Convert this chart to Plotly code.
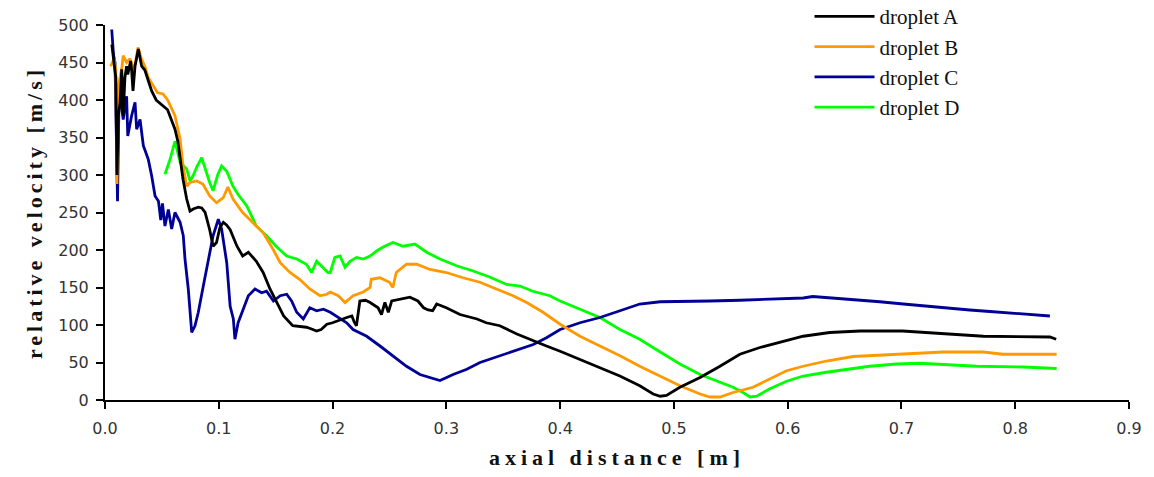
import plotly.graph_objects as go

# droplet A (black)
a_x = [0.006, 0.008, 0.0095, 0.0105, 0.0118, 0.0132, 0.0147, 0.016, 0.0175, 0.019, 0.020, 0.0225, 0.0234, 0.0246,
       0.0264, 0.0293, 0.0322, 0.035, 0.038, 0.041, 0.045, 0.050, 0.055, 0.058, 0.0615, 0.064, 0.066, 0.0686, 0.0718,
       0.0747, 0.078, 0.082, 0.085, 0.088, 0.092, 0.095, 0.098, 0.101, 0.104, 0.107, 0.110, 0.113, 0.116, 0.121, 0.126,
       0.133, 0.139, 0.145, 0.151, 0.157, 0.165, 0.171, 0.177, 0.181, 0.186, 0.190, 0.195, 0.200, 0.2065, 0.2125, 0.217,
       0.219, 0.221, 0.224, 0.229, 0.233, 0.240, 0.243, 0.246, 0.249, 0.252, 0.259, 0.268, 0.275, 0.280, 0.284, 0.288,
       0.2915, 0.300, 0.312, 0.327, 0.335, 0.347, 0.362, 0.376, 0.388, 0.400, 0.4175, 0.435, 0.4525, 0.470, 0.4818,
       0.488, 0.4935, 0.5053, 0.523, 0.5405, 0.558, 0.5756, 0.599, 0.6136, 0.637, 0.6636, 0.701, 0.7366, 0.772, 0.8305,
       0.836]
a_y = [474, 445, 430, 300, 380, 396, 441, 379, 430, 445, 434, 452, 440, 412,
       445, 468, 445, 440, 425, 412, 400, 394, 387, 375, 361, 345, 321, 294, 268,
       252, 255, 257, 256, 250, 227, 205, 210, 230, 237, 233, 227, 215, 205, 192, 197,
       185, 170, 148, 130, 112, 99, 98, 97, 95, 92, 94, 101, 103, 107, 110, 112,
       104, 99, 132, 133, 130, 123, 114, 130, 117, 132, 134, 137, 132, 123, 120, 119,
       128, 123, 114, 108, 103, 99, 88, 79, 72, 65, 54, 43, 32, 19, 8,
       5, 6, 17, 30, 45, 61, 70, 79, 85, 90, 92, 92, 88, 85, 84,
       81]

# droplet B (orange)
b_x = [0.005, 0.008, 0.0095, 0.0105, 0.012, 0.015, 0.016, 0.019, 0.022, 0.025, 0.027, 0.029, 0.032, 0.035, 0.038,
       0.042, 0.046, 0.051, 0.055, 0.0615, 0.066, 0.0686, 0.0718, 0.0747, 0.0806, 0.086, 0.092, 0.098, 0.104, 0.108,
       0.1125, 0.121, 0.130, 0.139, 0.1477, 0.154, 0.1626, 0.171, 0.180, 0.189, 0.195, 0.198, 0.205, 0.211, 0.218,
       0.227, 0.233, 0.234, 0.2417, 0.250, 0.253, 0.256, 0.265, 0.274, 0.2856, 0.300, 0.3146, 0.3296, 0.344, 0.3586,
       0.3706, 0.385, 0.400, 0.4175, 0.435, 0.4526, 0.470, 0.488, 0.5053, 0.523, 0.5317, 0.5405, 0.552, 0.5695, 0.587,
       0.599, 0.6136, 0.634, 0.6575, 0.6958, 0.7366, 0.772, 0.789, 0.8364]
b_y = [445, 455, 440, 288, 420, 445, 459, 450, 455, 440, 452, 470, 455, 445, 430,
       419, 410, 408, 400, 379, 348, 312, 285, 290, 292, 288, 272, 263, 270, 284,
       268, 250, 237, 223, 201, 183, 170, 161, 148, 139, 141, 144, 139, 130, 139,
       144, 150, 161, 163, 157, 150, 170, 181, 181, 174, 170, 163, 157, 148, 139,
       130, 117, 101, 85, 72, 59, 45, 32, 19, 8, 4, 4, 10, 17, 30,
       39, 45, 52, 58, 61, 64, 64, 61, 61]

# droplet C (blue)
c_x = [0.0059, 0.0075, 0.0088, 0.0105, 0.011, 0.0125, 0.014, 0.016, 0.019, 0.020, 0.0234, 0.0264, 0.0278, 0.0308,
       0.0337, 0.038, 0.041, 0.044, 0.047, 0.049, 0.0505, 0.0527, 0.0557, 0.0586, 0.0615, 0.066, 0.0688, 0.0703,
       0.0732, 0.0762, 0.0791, 0.082, 0.0864, 0.091, 0.095, 0.0996, 0.1025, 0.107, 0.110, 0.1128, 0.1142, 0.117,
       0.1216, 0.126, 0.1318, 0.1377, 0.142, 0.148, 0.154, 0.1597, 0.164, 0.1685, 0.1743, 0.180, 0.186, 0.192, 0.198,
       0.2036, 0.2124, 0.218, 0.230, 0.2417, 0.2534, 0.265, 0.2768, 0.2885, 0.2944, 0.306, 0.318, 0.3296, 0.3413,
       0.353, 0.3647, 0.3764, 0.388, 0.400, 0.4175, 0.435, 0.4526, 0.470, 0.488, 0.5053, 0.5317, 0.558, 0.593,
       0.6137, 0.622, 0.6577, 0.681, 0.7016, 0.722, 0.7426, 0.760, 0.7777, 0.7953, 0.813, 0.8305]
c_y = [494, 460, 450, 300, 265, 420, 400, 374, 405, 352, 379, 397, 361, 374,
       339, 321, 299, 272, 265, 240, 262, 232, 254, 228, 250, 237, 219, 188,
       148, 90, 99, 117, 152, 188, 219, 241, 228, 183, 125, 108, 81, 103,
       121, 139, 148, 143, 145, 132, 139, 141, 132, 117, 108, 123, 119, 121, 117,
       112, 103, 94, 85, 72, 59, 45, 34, 28, 26, 34, 41, 50, 56,
       63, 68, 74, 83, 94, 103, 110, 119, 128, 131, 131, 132, 133, 135,
       136, 138, 134, 131, 128, 125, 122, 120, 118, 116, 113, 112]

# droplet D (green)
d_x = [0.0527, 0.057, 0.0615, 0.063, 0.066, 0.0718, 0.0747, 0.0774, 0.081, 0.085, 0.089, 0.092, 0.095, 0.099,
       0.1025, 0.107, 0.1125, 0.117, 0.1245, 0.133, 0.142, 0.151, 0.1597, 0.1685, 0.177, 0.1816, 0.186, 0.1916, 0.196,
       0.198, 0.202, 0.2065, 0.211, 0.2153, 0.221, 0.227, 0.233, 0.239, 0.2445, 0.253, 0.262, 0.2724, 0.2827, 0.2944,
       0.309, 0.3236, 0.338, 0.353, 0.3647, 0.376, 0.391, 0.400, 0.4175, 0.435, 0.4526, 0.470, 0.488, 0.5053, 0.523,
       0.5405, 0.552, 0.5607, 0.567, 0.5727, 0.5844, 0.599, 0.6136, 0.634, 0.6547, 0.672, 0.6958, 0.716, 0.766, 0.807,
       0.8364]
d_y = [301, 320, 345, 335, 317, 308, 292, 299, 312, 323, 303, 290, 279, 300,
       312, 305, 285, 274, 259, 232, 219, 204, 192, 188, 181, 170, 185, 177, 170,
       170, 190, 192, 177, 185, 190, 188, 192, 199, 204, 210, 205, 208, 197, 188,
       179, 172, 164, 154, 152, 145, 139, 132, 121, 110, 94, 81, 64, 48, 34,
       24, 17, 10, 4, 5, 15, 25, 32, 37, 41, 45, 48, 49, 45, 44,
       42]

x_ticks = [0.0, 0.1, 0.2, 0.3, 0.4, 0.5, 0.6, 0.7, 0.8, 0.9]
y_ticks = [0, 50, 100, 150, 200, 250, 300, 350, 400, 450, 500]

series = [
    ("droplet D", d_x, d_y, "#00ff00"),
    ("droplet C", c_x, c_y, "#000096"),
    ("droplet B", b_x, b_y, "#ff9900"),
    ("droplet A", a_x, a_y, "#000000"),
]

fig = go.Figure()
for name, xs, ys, col in series:
    fig.add_trace(go.Scatter(x=xs, y=ys, mode="lines", name=name,
                             line=dict(color=col, width=2.8)))

tick_font = dict(family="DejaVu Sans", size=16, color="#333333")
title_font = dict(family="Liberation Serif", size=22, color="#111111")

fig.update_layout(
    width=1154, height=477,
    margin=dict(l=105, r=25, t=25, b=77, autoexpand=False),
    paper_bgcolor="white", plot_bgcolor="white",
    showlegend=True,
    legend=dict(x=0.688, y=1.077, xanchor="left", yanchor="top", traceorder="reversed",
                font=dict(family="Liberation Serif", size=21, color="#111111"),
                bgcolor="rgba(0,0,0,0)", itemwidth=60, tracegroupgap=0),
    xaxis=dict(range=[0, 0.9], tickvals=x_ticks, tickformat=".1f",
               showgrid=False, zeroline=False, showline=True, linecolor="black", linewidth=2,
               ticks="outside", ticklen=7, tickwidth=2, tickcolor="black",
               tickfont=tick_font, ticklabelstandoff=6,
               title=dict(text="<b><span style='letter-spacing:5px'>axial distance [m]</span></b>",
                          font=title_font, standoff=12)),
    yaxis=dict(range=[0, 500], tickvals=y_ticks,
               showgrid=False, zeroline=False, showline=True, linecolor="black", linewidth=2,
               ticks="outside", ticklen=7, tickwidth=2, tickcolor="black",
               tickfont=tick_font, ticklabelstandoff=4,
               title=dict(text="<b><span style='letter-spacing:4px'>relative velocity [m/s]</span></b>",
                          font=title_font, standoff=10)),
)

fig.write_html("out.html")
